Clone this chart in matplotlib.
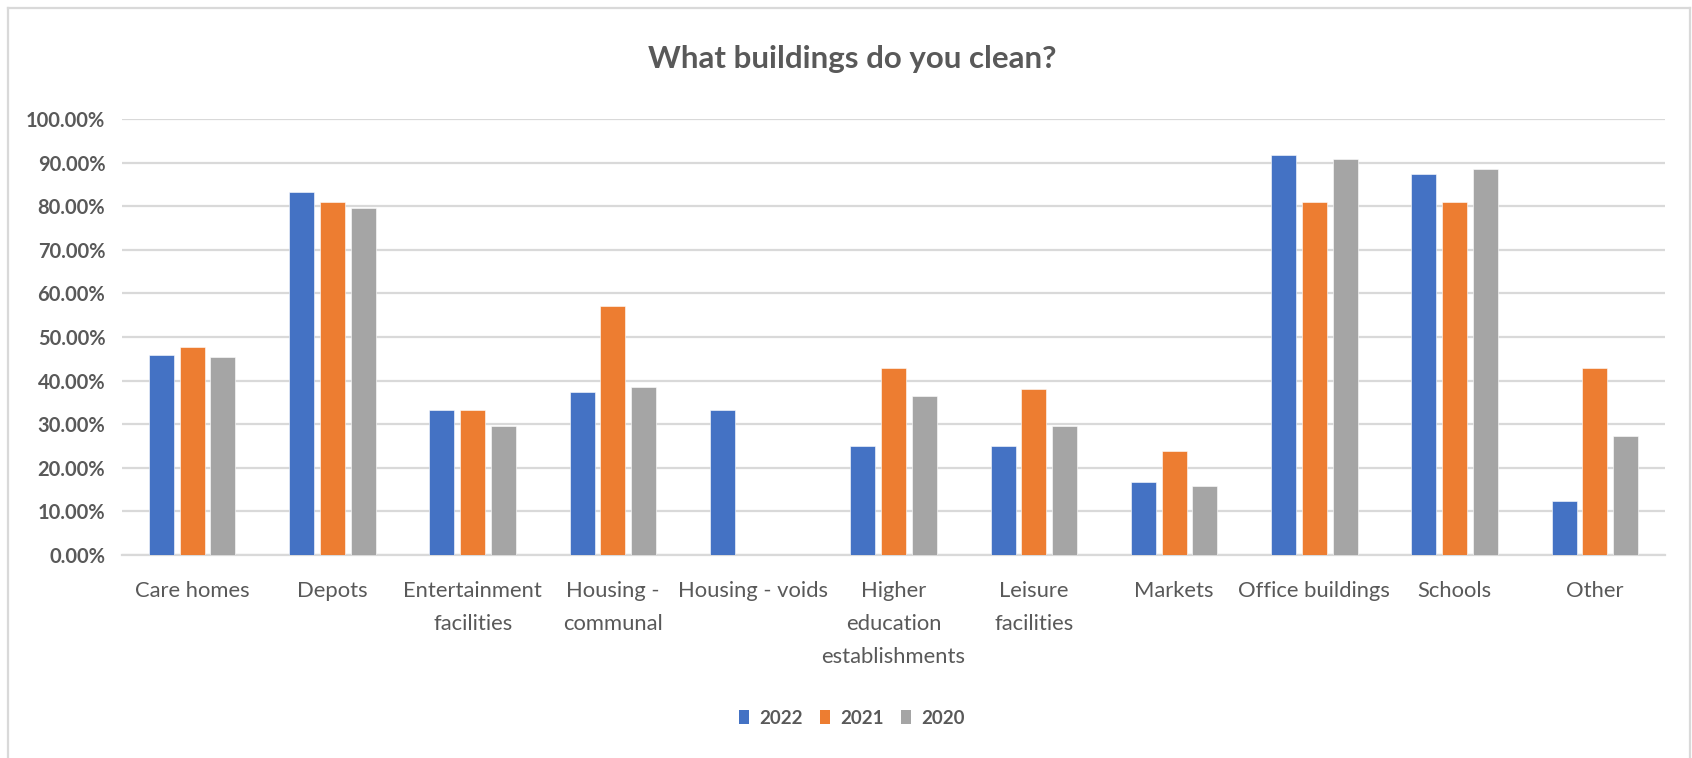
import numpy as np
import matplotlib
matplotlib.use("Agg")
import matplotlib.pyplot as plt
from matplotlib.patches import Patch
from matplotlib.lines import Line2D

categories = ["Care homes", "Depots", "Entertainment\nfacilities", "Housing -\ncommunal",
              "Housing - voids", "Higher\neducation\nestablishments", "Leisure\nfacilities",
              "Markets", "Office buildings", "Schools", "Other"]
series_names = ["2022", "2021", "2020"]
v2022 = [45.83, 83.33, 33.33, 37.50, 33.33, 25.00, 25.00, 16.67, 91.67, 87.50, 12.50]
v2021 = [47.62, 80.95, 33.33, 57.14, np.nan, 42.86, 38.10, 23.81, 80.95, 80.95, 42.86]
v2020 = [45.45, 79.55, 29.55, 38.64, np.nan, 36.36, 29.55, 15.91, 90.91, 88.64, 27.27]
yticks = [0, 10, 20, 30, 40, 50, 60, 70, 80, 90, 100]
colors = ["#4472C4", "#ED7D31", "#A5A5A5"]

plt.rcParams['font.family'] = ['Lato', 'DejaVu Sans']
txt = "#595959"
grid = "#D9D9D9"

W, H = 1692, 758
fig = plt.figure(figsize=(W / 100, H / 100), dpi=100)
ax = fig.add_axes([122 / W, 1 - 555 / H, (1665 - 122) / W, (555 - 119) / H])

x = np.arange(len(categories))
offs = [-0.219, 0.0, 0.219]
bw = 0.178
for vals, off, c, name in zip([v2022, v2021, v2020], offs, colors, series_names):
    ax.bar(x + off, vals, width=bw, color=c, label=name, zorder=3,
           edgecolor="white", linewidth=0.4)

ax.set_xlim(-0.5, len(categories) - 0.5)
ax.set_ylim(0, 100)
ax.set_yticks(yticks)
ax.set_yticklabels([f"{t:.2f}%" for t in yticks])
ax.yaxis.grid(True, color=grid, linewidth=1.6, zorder=0)
ax.set_axisbelow(True)
for s in ["left", "right", "top"]:
    ax.spines[s].set_visible(False)
ax.spines["bottom"].set_color(grid)
ax.spines["bottom"].set_linewidth(1.6)
ax.spines["bottom"].set_zorder(1)
ax.tick_params(axis="both", length=0)
ax.tick_params(axis="y", pad=12, labelsize=14.5, labelcolor=txt)
for lab in ax.get_yticklabels():
    lab.set_fontweight("bold")
ax.set_xticks(x)
ax.set_xticklabels(categories, fontsize=15.8, color=txt, linespacing=1.8)
ax.tick_params(axis="x", pad=19)

fig.text(852 / W, 1 - 59 / H, "What buildings do you clean?", ha="center", va="center",
         fontsize=22.5, fontweight="bold", color=txt)

handles = [Patch(facecolor=c, edgecolor="none") for c in colors]
leg = fig.legend(handles, series_names, loc="center", bbox_to_anchor=(852 / W, 1 - 718 / H),
                 ncol=3, frameon=False, handlelength=0.55, handleheight=0.8,
                 handletextpad=0.55, columnspacing=0.9,
                 prop={"family": ["Lato", "DejaVu Sans"], "weight": "bold", "size": 13.5})
for t in leg.get_texts():
    t.set_color(txt)

# outer chart border
bx0, bx1, by0 = 7.5 / W, 1690 / W, 1 - 7.5 / H
fig.add_artist(Line2D([bx0, bx1], [by0, by0], transform=fig.transFigure, color=grid, linewidth=1.6))
fig.add_artist(Line2D([bx0, bx0], [by0, 0], transform=fig.transFigure, color=grid, linewidth=1.6))
fig.add_artist(Line2D([bx1, bx1], [by0, 0], transform=fig.transFigure, color=grid, linewidth=1.6))

fig.savefig("out.png", dpi=100)
